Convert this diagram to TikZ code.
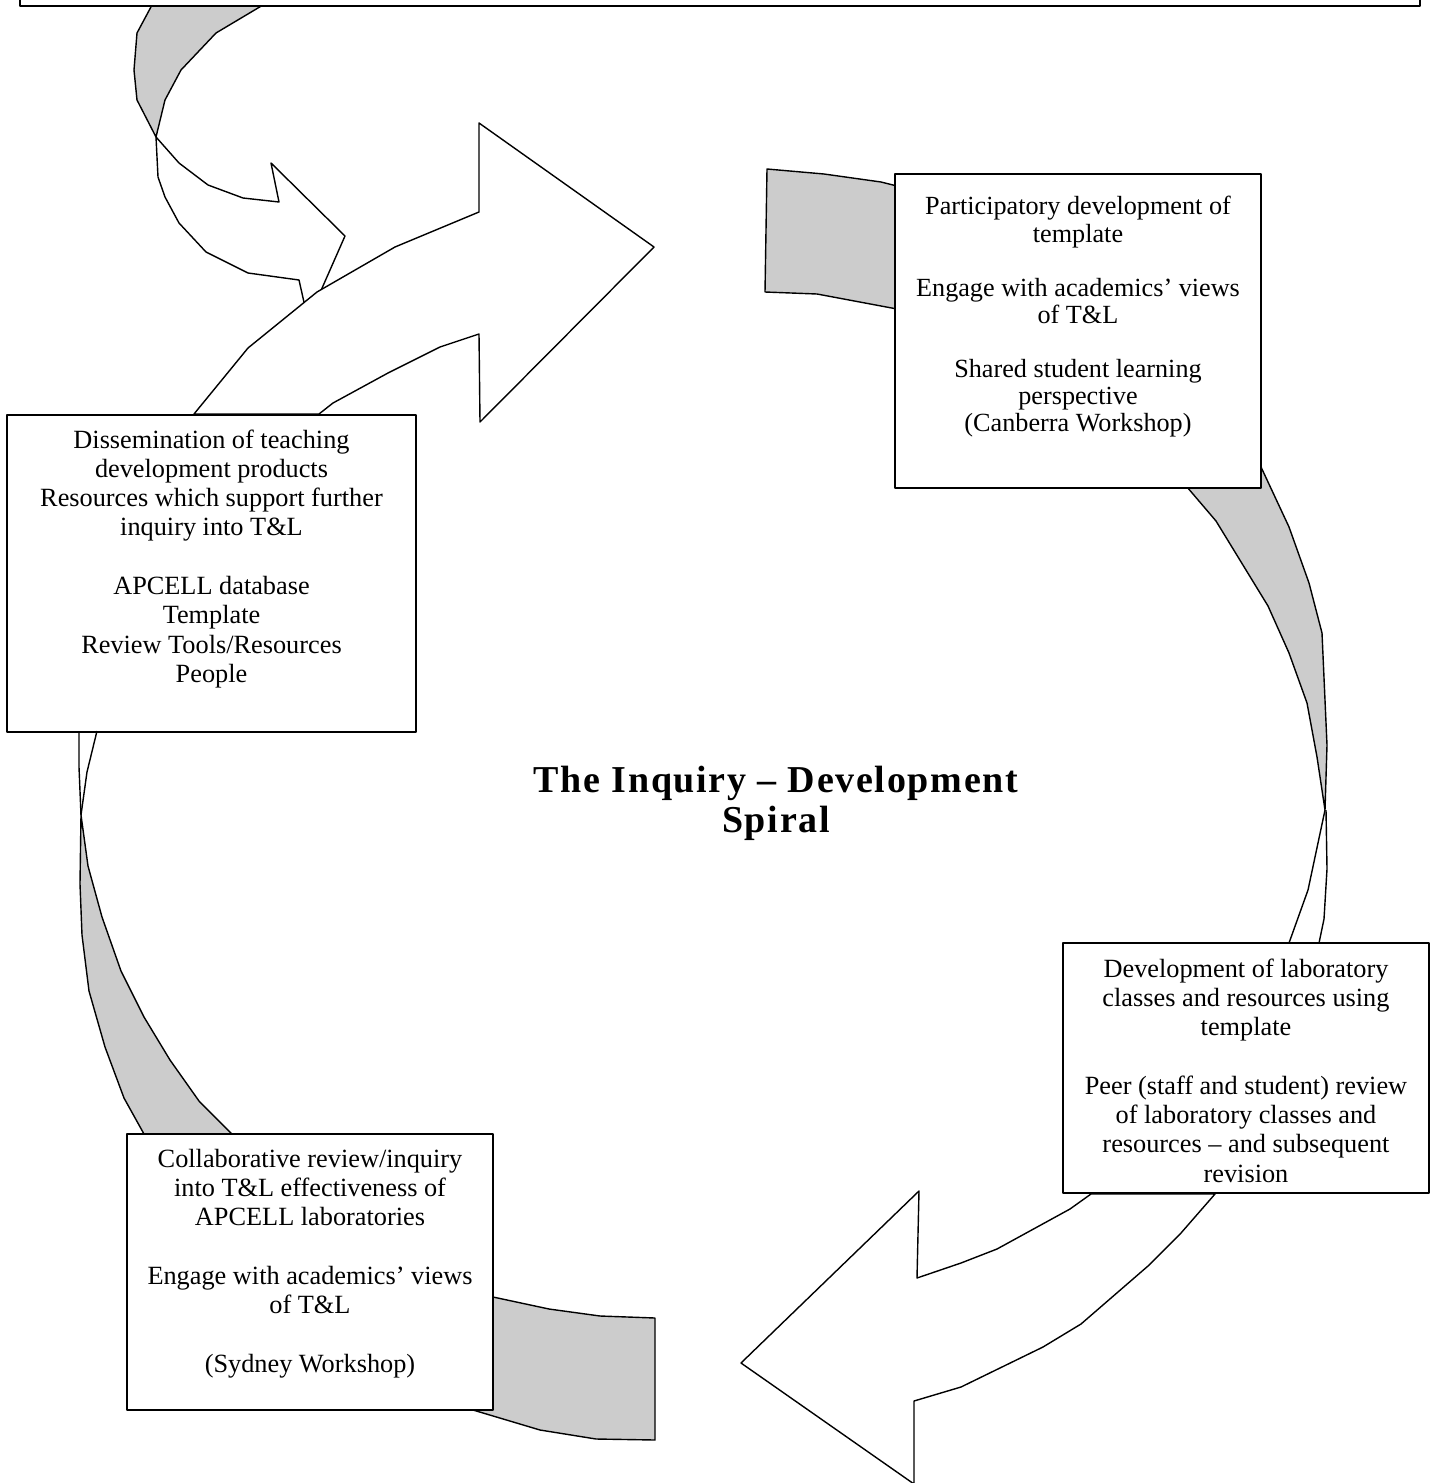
\documentclass[tikz,border=0pt]{standalone}
\usepackage{fontspec}
\setmainfont{Liberation Serif}
\newfontfamily\spacedserif[LetterSpace=4.5]{Liberation Serif}
\definecolor{ribbongrey}{RGB}{204,204,204}
\begin{document}
\begin{tikzpicture}[x=1pt,y=-1pt,
  line width=1.4pt, line join=round,
  ribbon/.style={fill=ribbongrey, draw=black},
  arrowshape/.style={fill=white, draw=black},
  edgeline/.style={draw=black},
  box/.style={draw=black, fill=white, line width=1.8pt, rectangle, inner sep=0pt, outer sep=0pt, anchor=north west},
  boxtext/.style={anchor=north, inner sep=0pt, outer sep=0pt, align=center, font=\fontsize{26.3}{29.3}\selectfont},
  boxtextb/.style={anchor=north, inner sep=0pt, outer sep=0pt, align=center, font=\fontsize{26.2}{27.1}\selectfont},
  titletext/.style={anchor=north, inner sep=0pt, outer sep=0pt, align=center, font=\spacedserif\bfseries\fontsize{38}{40}\selectfont}
]
\useasboundingbox (0,0) rectangle (1437,1483);

% top-left ribbon (grey back face)
\path[ribbon] (160,-10) -- (152,5) -- (137,33) -- (134,70) -- (137,100) -- (156,137)
  -- (165,100) -- (181,70) -- (216,33) -- (263,5) -- (288,-10) -- cycle;
% small curved arrow
\path[arrowshape] (156,137) -- (179,163) -- (208,185) -- (243,198) -- (279,202) -- (271,163)
  -- (345,236) -- (308,320) -- (299,280) -- (248,273) -- (206,252) -- (179,223) -- (165,197)
  -- (158,177) -- cycle;
% big upper arrow
\path[arrowshape] (194,414) -- (248,348) -- (317,292) -- (395,247) -- (479,212) -- (479,123)
  -- (654,247) -- (480,422) -- (479,334) -- (440,347) -- (388,373) -- (333,403) -- (319,414) -- cycle;

% top-right grey ribbon (behind Participatory box)
\path[ribbon] (767,169) -- (824,174) -- (881,182) -- (897,186) -- (897,309) -- (817,294) -- (765,292) -- cycle;

% right grey ribbon
\path[ribbon] (1187,487) -- (1216,521) -- (1268,606) -- (1289,653) -- (1307,703) -- (1317,757)
  -- (1325,810) -- (1327,745) -- (1322,633) -- (1309,583) -- (1289,527) -- (1261,467)
  -- (1240,480) -- cycle;

% bottom-right arrow
\path[arrowshape] (1091,1194) -- (1070,1209) -- (997,1249) -- (961,1263) -- (917,1278) -- (919,1191)
  -- (741,1363) -- (914,1484) -- (914,1401) -- (961,1387) -- (1043,1347) -- (1081,1324)
  -- (1148,1266) -- (1181,1233) -- (1215,1194) -- cycle;

% bottom grey ribbon (behind Collaborative box)
\path[ribbon] (493,1297) -- (549,1309) -- (600,1316) -- (655,1318) -- (655,1440) -- (596,1439)
  -- (540,1430) -- (473,1410) -- (485,1300) -- cycle;

% left grey ribbon
\path[ribbon] (81,815) -- (80,884) -- (82,935) -- (89,991) -- (105,1047) -- (124,1098) -- (144,1134)
  -- (232,1134) -- (199,1101) -- (170,1060) -- (144,1017) -- (121,971) -- (102,917) -- (88,866) -- cycle;

% boxes
\node[box, minimum width=1400pt, minimum height=56pt] (topbox) at (20,-50) {};
\node[box, minimum width=409pt, minimum height=317pt] (diss) at (7,415) {};
\node[box, minimum width=366pt, minimum height=314pt] (part) at (895,174) {};
\node[box, minimum width=366pt, minimum height=250pt] (dev) at (1063,943) {};
\node[box, minimum width=366pt, minimum height=276pt] (coll) at (127,1134) {};

% white parts of the twisted ribbons
\path[edgeline] (1325,810) -- (1308,890) -- (1289,943);
\path[edgeline] (1326,810) -- (1327,869) -- (1324,919) -- (1319,943);
\path[edgeline] (79,731) -- (79,767) -- (81,815);
\path[edgeline] (97,731) -- (87,772) -- (81,815);

% texts
\node[boxtext] (disstxt) at (211.5,427.5) {\strut Dissemination of teaching\\development products\\Resources which support further\\inquiry into T\&L\\[29.3pt]APCELL database\\Template\\Review Tools/Resources\\People};
\node[boxtextb] (parttxt) at (1078,196) {\strut Participatory development of\\template\\[27.1pt]Engage with academics’ views\\of T\&L\\[27.1pt]Shared student learning\\perspective\\(Canberra Workshop)};
\node[boxtext] (devtxt) at (1246,956.5) {\strut Development of laboratory\\classes and resources using\\template\\[29.3pt]Peer (staff and student) review\\of laboratory classes and\\resources – and subsequent\\revision};
\node[boxtext] (colltxt) at (310,1146.5) {\strut Collaborative review/inquiry\\into T\&L effectiveness of\\APCELL laboratories\\[29.3pt]Engage with academics’ views\\of T\&L\\[29.3pt](Sydney Workshop)};
\node[titletext] (title) at (776,764) {\strut The Inquiry – Development\\Spiral};
\end{tikzpicture}
\end{document}
